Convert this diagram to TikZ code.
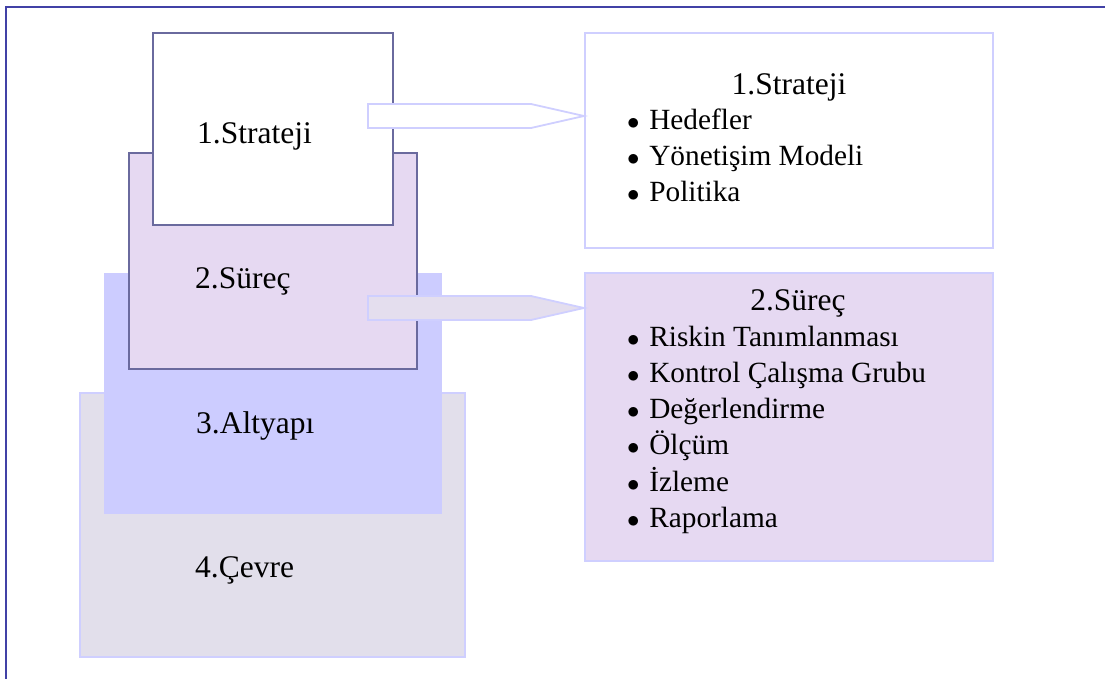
\documentclass[tikz,border=0pt]{standalone}
\usepackage{fontspec}
\setmainfont{Liberation Serif}
\usetikzlibrary{positioning}
\definecolor{framec}{HTML}{4141A6}
\definecolor{dark}{HTML}{6A6A9E}
\definecolor{edge}{HTML}{CFCFFF}
\definecolor{lav}{HTML}{E6D9F2}
\definecolor{bluec}{HTML}{CCCCFF}
\definecolor{greyc}{HTML}{E2DFEB}
\definecolor{arrowc}{HTML}{E4DEEE}
\newcommand{\dotitem}[1]{$\bullet$\hspace{0.33em}#1}

\begin{document}
\begin{tikzpicture}[x=1pt,y=-1pt,font=\fontsize{31.5}{36}\selectfont,
 layer/.style={anchor=north west,inner sep=0pt,line width=1.8pt},
 panel/.style={anchor=north west,inner sep=0pt,draw=edge,line width=1.8pt},
 lbl/.style={anchor=base west,inner sep=0pt},
 item/.style={anchor=base west,inner sep=0pt,font=\fontsize{29.3}{36}\selectfont},
 blockarrow/.style={draw=edge,line width=1.8pt,line join=miter}]
 \useasboundingbox (0,0) rectangle (1105,679);
 \draw[framec,line width=2.8pt] (6,679) -- (6,7) -- (1105,7);
 % stacked layers, back to front
 \node[layer,fill=greyc,draw=edge,minimum width=385,minimum height=264] (cevre) at (79,392) {};
 \node[layer,fill=bluec,minimum width=338,minimum height=241] (altyapi) at (103,272) {};
 \node[layer,fill=lav,draw=dark,minimum width=288,minimum height=216] (surec) at (128,152) {};
 \node[layer,fill=white,draw=dark,minimum width=240,minimum height=192] (strateji) at (152,32) {};
 \node[lbl] (l1) at (197,144) {1.Strateji};
 \node[lbl] (l2) at (195,288) {2.Süreç};
 \node[lbl] (l3) at (196,433) {3.Altyapı};
 \node[lbl] (l4) at (195,577) {4.Çevre};
 % detail panels
 \node[panel,fill=white,minimum width=408,minimum height=215] (p1) at (584,32) {};
 \node[panel,fill=lav,minimum width=408,minimum height=288] (p2) at (584,272) {};
 \node[anchor=base,inner sep=0pt] (t1) at (789,95) {1.Strateji};
 \node[anchor=base,inner sep=0pt] (t2) at (798,310) {2.Süreç};
 \foreach \t [count=\i] in {Hedefler,Yönetişim Modeli,Politika}
  \node[item] (a\i) at (627,{94+36*\i}) {\dotitem{\t}};
 \foreach \t [count=\i] in {Riskin Tanımlanması,Kontrol Çalışma Grubu,Değerlendirme,Ölçüm,İzleme,Raporlama}
  \node[item] (b\i) at (627,{310+36.2*\i}) {\dotitem{\t}};
 % block arrows
 \coordinate (tip1) at (p1.west |- 0,116);
 \coordinate (tip2) at (p2.west |- 0,308);
 \draw[blockarrow,fill=white] (tip1) -- ++(-53,12) -- ++(-163,0) -- ++(0,-24) -- ++(163,0) -- cycle;
 \draw[blockarrow,fill=arrowc] (tip2) -- ++(-53,12) -- ++(-163,0) -- ++(0,-24) -- ++(163,0) -- cycle;
\end{tikzpicture}
\end{document}
